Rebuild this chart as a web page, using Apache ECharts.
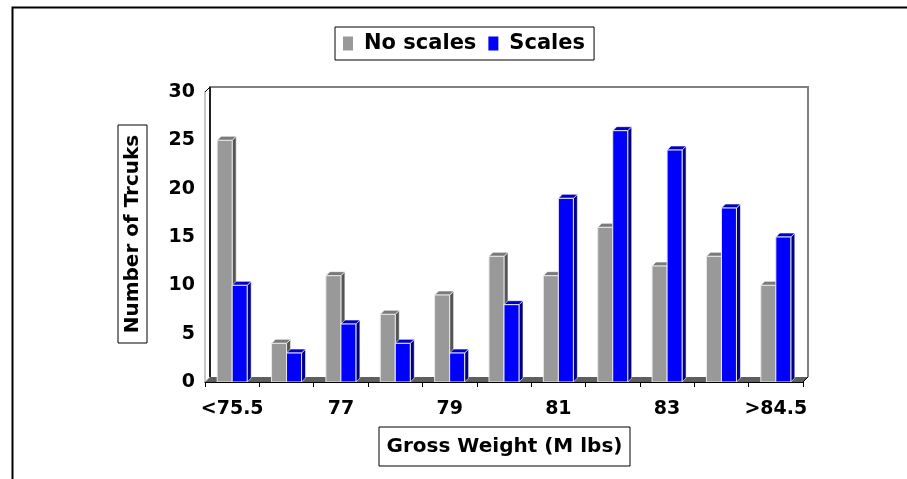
<!DOCTYPE html>
<html>
<head>
<meta charset="utf-8">
<script src="https://cdn.jsdelivr.net/npm/echarts@6/dist/echarts.min.js"></script>
<style>
  html, body { margin: 0; padding: 0; background: #fff; }
  #chart { width: 907px; height: 479px; }
</style>
</head>
<body>
<div id="chart"></div>
<script>
var categories = ['<75.5', '76', '77', '78', '79', '80', '81', '82', '83', '84', '>84.5'];
var noScales = [25, 4, 11, 7, 9, 13, 11, 16, 12, 13, 10];
var scales = [10, 3, 6, 4, 3, 8, 19, 26, 24, 18, 15];
var yTicks = [0, 30, 5]; // min, max, step

var FONT = 'DejaVu Sans';
var WALL = { dx: 5, dy: -5 };   // depth of back wall / floor
var BAR = { dx: 4, dy: -4 };    // depth of each bar

var chart = echarts.init(document.getElementById('chart'), null, { renderer: 'canvas' });

// back wall + floor, drawn from the grid rect
var renderFrame = function (params, api) {
    var cs = params.coordSys;
    var x0 = cs.x, x1 = cs.x + cs.width, yT = cs.y, yB = cs.y + cs.height;
    var dx = WALL.dx, dy = WALL.dy;
    return {
        type: 'group',
        children: [
            { type: 'polygon', shape: { points: [[x0, yB], [x1, yB], [x1 + dx, yB + dy], [x0 + dx, yB + dy]] },
              style: { fill: '#5f5f5f' } },
            { type: 'polyline', shape: { points: [[x0 + dx, yB + dy], [x0 + dx, yT + dy], [x1 + dx, yT + dy], [x1 + dx, yB + dy]] },
              style: { stroke: '#808080', lineWidth: 2, fill: null } },
            { type: 'line', shape: { x1: x0 + dx, y1: yB + dy, x2: x0 + dx, y2: yT + dy },
              style: { stroke: '#000', lineWidth: 1.5 } },
            { type: 'line', shape: { x1: x0, y1: yT, x2: x0 + dx, y2: yT + dy },
              style: { stroke: '#000', lineWidth: 1 } },
            { type: 'line', shape: { x1: x1, y1: yB, x2: x1 + dx, y2: yB + dy },
              style: { stroke: '#000', lineWidth: 1 } }
        ]
    };
};

var makeBarRenderer = function (slot, front, side, top) {
    return function (params, api) {
        var cx = api.coord([api.value(0), 0])[0];
        var yB = api.coord([api.value(0), 0])[1];
        var yT = api.coord([api.value(0), api.value(1)])[1];
        var catW = api.size([1, 0])[0];
        var w = catW * 0.276;
        var xa = slot === 0 ? cx - w : cx;
        var xb = xa + w;
        var dx = BAR.dx, dy = BAR.dy;
        return {
            type: 'group',
            children: [
                { type: 'polygon', shape: { points: [[xb, yT], [xb + dx, yT + dy], [xb + dx, yB + dy], [xb, yB]] },
                  style: { fill: side, stroke: '#ffffff', lineWidth: 0.6 } },
                { type: 'polygon', shape: { points: [[xa, yT], [xa + dx, yT + dy], [xb + dx, yT + dy], [xb, yT]] },
                  style: { fill: top, stroke: '#ffffff', lineWidth: 0.6 } },
                { type: 'rect', shape: { x: xa, y: yT, width: w, height: yB - yT },
                  style: { fill: front, stroke: '#e8e8e8', lineWidth: 1 } }
            ]
        };
    };
};

var toPairs = function (arr) {
    var out = [];
    for (var i = 0; i < arr.length; i++) {
        out.push([i, arr[i]]);
    }
    return out;
};

chart.setOption({
    animation: false,
    backgroundColor: '#ffffff',
    textStyle: { fontFamily: FONT },
    grid: { left: 205, right: 104, top: 92, bottom: 97 },
    legend: {
        data: ['No scales', 'Scales'],
        left: 335,
        top: 27,
        orient: 'horizontal',
        icon: 'rect',
        itemWidth: 10,
        itemHeight: 14,
        itemGap: 12,
        padding: [6, 9, 6, 8],
        borderColor: '#000',
        borderWidth: 1,
        textStyle: { fontFamily: FONT, fontSize: 21, fontWeight: 'bold', color: '#000', padding: [0, 0, 0, 6] }
    },
    xAxis: {
        type: 'category',
        data: categories,
        boundaryGap: true,
        z: 5,
        axisLine: { show: true, lineStyle: { color: '#000', width: 1 } },
        axisTick: { show: true, interval: 0, length: 5, lineStyle: { color: '#000' } },
        axisLabel: { interval: 1, margin: 18, fontFamily: FONT, fontSize: 19, fontWeight: 'bold', color: '#000' },
        splitLine: { show: false }
    },
    yAxis: {
        type: 'value',
        min: yTicks[0],
        max: yTicks[1],
        interval: yTicks[2],
        axisLine: { show: true, lineStyle: { color: '#c8c8c8', width: 2 } },
        axisTick: { show: false },
        axisLabel: { margin: 10, fontFamily: FONT, fontSize: 19, fontWeight: 'bold', color: '#000' },
        splitLine: { show: false }
    },
    graphic: [
        { type: 'rect', left: 10, top: 5, shape: { width: 1000, height: 1000 },
          style: { fill: null, stroke: '#000', lineWidth: 2 }, z: 100 },
        { type: 'rect', shape: { x: 118, y: 125, width: 29, height: 218 },
          style: { fill: '#fff', stroke: '#000', lineWidth: 1 } },
        { type: 'text', x: 132.5, y: 234, rotation: Math.PI / 2,
          style: { text: 'Number of Trcuks', fill: '#000', font: 'bold 20px "DejaVu Sans"', align: 'center', verticalAlign: 'middle' } },
        { type: 'rect', shape: { x: 379, y: 427, width: 251, height: 39 },
          style: { fill: '#fff', stroke: '#000', lineWidth: 1 } },
        { type: 'text', x: 504.5, y: 446.5,
          style: { text: 'Gross Weight (M lbs)', fill: '#000', font: 'bold 20px "DejaVu Sans"', align: 'center', verticalAlign: 'middle' } }
    ],
    series: [
        {
            name: 'frame',
            type: 'custom',
            renderItem: renderFrame,
            data: [[0, 0]],
            silent: true,
            z: 1
        },
        {
            name: 'No scales',
            type: 'custom',
            itemStyle: { color: '#999999' },
            renderItem: makeBarRenderer(0, '#999999', '#555555', '#7a7a7a'),
            encode: { x: 0, y: 1 },
            data: toPairs(noScales),
            z: 2
        },
        {
            name: 'Scales',
            type: 'custom',
            itemStyle: { color: '#0000ff' },
            renderItem: makeBarRenderer(1, '#0000ff', '#000080', '#0000c8'),
            encode: { x: 0, y: 1 },
            data: toPairs(scales),
            z: 2
        }
    ]
});
</script>
</body>
</html>
